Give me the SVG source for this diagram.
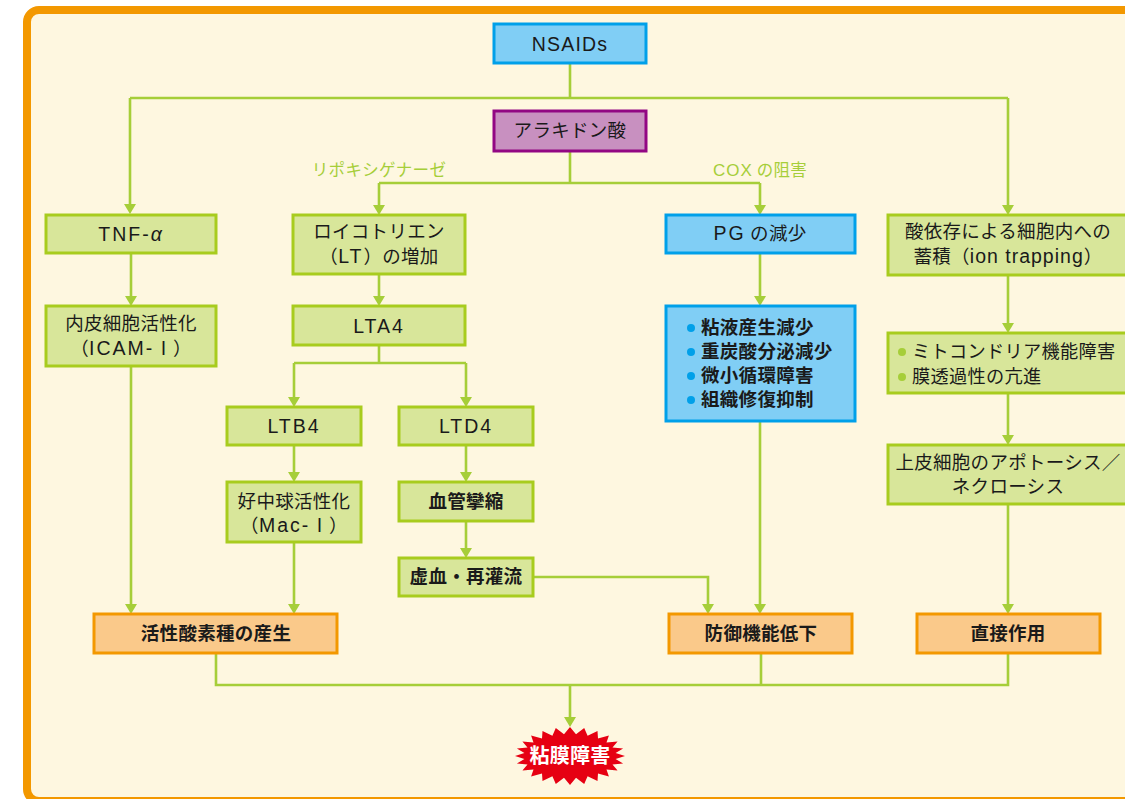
<svg xmlns="http://www.w3.org/2000/svg" width="1125" height="799" viewBox="0 0 1125 799">
<defs>
<marker id="arr" markerUnits="userSpaceOnUse" markerWidth="10" markerHeight="12" viewBox="0 0 10 12" refX="7" refY="6" orient="auto">
<path d="M0,0 L10,6 L0,12 z" fill="#A6CE39"/>
</marker>
</defs>
<style>
text{font-family:"Noto Sans CJK JP","Noto Sans",sans-serif;font-size:18.5px;fill:#1a1a1a;text-anchor:middle;letter-spacing:0.3px}
.lat{font-family:"Liberation Sans",Arial,sans-serif;font-size:19.5px;letter-spacing:2px}
.g{fill:#D8E69A;stroke:#A8CC1E;stroke-width:3}
.b{fill:#80CEF5;stroke:#00A0E9;stroke-width:3}
.o{fill:#FAC98A;stroke:#F39800;stroke-width:3}
.p{fill:#C890C0;stroke:#920783;stroke-width:3}
.c path{fill:none;stroke:#A6CE39;stroke-width:2.6}
.c .a{marker-end:url(#arr)}
.bold{font-weight:700}
.lbl{fill:#A6CE39;font-size:16.5px}
.lbl .lat{font-size:17px;letter-spacing:1px}
.st{text-anchor:start}
</style>
<rect x="0" y="0" width="1125" height="799" fill="#ffffff"/>
<rect id="frame" x="27" y="10" width="1120" height="791" rx="12" fill="#FEF7E0" stroke="#F39800" stroke-width="8"/>

<g class="c" id="connectors">
<path d="M570,63 V98"/>
<path d="M130,98 H1008"/>
<path class="a" d="M130,98 V211"/>
<path class="a" d="M1008,98 V212"/>
<path d="M570,151 V183"/>
<path d="M379,183 H760"/>
<path class="a" d="M379,183 V212"/>
<path class="a" d="M760,183 V212"/>
<path class="a" d="M131,253 V303"/>
<path class="a" d="M131,366 V611"/>
<path class="a" d="M379,274 V303"/>
<path d="M379,345 V363"/>
<path d="M294,363 H466"/>
<path class="a" d="M294,363 V404"/>
<path class="a" d="M466,363 V404"/>
<path class="a" d="M294,445 V479"/>
<path class="a" d="M466,445 V479"/>
<path class="a" d="M466,521 V555"/>
<path class="a" d="M294,542 V611"/>
<path class="a" d="M533,577 H708 V611"/>
<path class="a" d="M760,253 V303"/>
<path class="a" d="M760,421 V611"/>
<path class="a" d="M1008,275 V330"/>
<path class="a" d="M1008,393 V442"/>
<path class="a" d="M1008,504 V611"/>
<path d="M216,653 V685 H1008 V653"/>
<path d="M761,653 V685"/>
<path class="a" d="M570,685 V724"/>
</g>

<g id="nsaids"><rect class="b" x="494" y="24" width="152" height="39"/><text x="570" y="51"><tspan class="lat" style="letter-spacing:1.2px">NSAIDs</tspan></text></g>
<g id="arachidonic"><rect class="p" x="494" y="111" width="152" height="40"/><text x="570" y="137">アラキドン酸</text></g>
<g id="lbl-lox"><text class="lbl" x="379" y="176">リポキシゲナーゼ</text></g>
<g id="lbl-cox"><text class="lbl" x="760" y="176"><tspan class="lat">COX</tspan> の阻害</text></g>

<g id="tnf"><rect class="g" x="46" y="215" width="170" height="38"/><text x="131" y="241"><tspan class="lat">TNF-</tspan><tspan class="lat" font-style="italic">α</tspan></text></g>
<g id="lt"><rect class="g" x="293" y="215" width="172" height="59"/><text x="379" y="238">ロイコトリエン<tspan x="379" y="263">（<tspan class="lat">LT</tspan>）の増加</tspan></text></g>
<g id="pg"><rect class="b" x="666" y="215" width="189" height="38"/><text x="760" y="240"><tspan class="lat">PG</tspan> の減少</text></g>
<g id="ion"><rect class="g" x="888" y="215" width="240" height="60"/><text x="1008" y="238">酸依存による細胞内への<tspan x="1008" y="263">蓄積（<tspan class="lat" style="letter-spacing:1px">ion trapping</tspan>）</tspan></text></g>

<g id="icam"><rect class="g" x="46" y="306" width="170" height="60"/><text x="131" y="330">内皮細胞活性化<tspan x="131" y="355">（<tspan class="lat">ICAM-</tspan>Ⅰ）</tspan></text></g>
<g id="lta4"><rect class="g" x="293" y="306" width="172" height="39"/><text x="379" y="333"><tspan class="lat">LTA4</tspan></text></g>
<g id="pglist"><rect class="b" x="666" y="306" width="189" height="115"/>
<circle cx="691" cy="328" r="4" fill="#00A0E9"/><circle cx="691" cy="352" r="4" fill="#00A0E9"/><circle cx="691" cy="376" r="4" fill="#00A0E9"/><circle cx="691" cy="400" r="4" fill="#00A0E9"/>
<text class="st bold" x="701" y="334">粘液産生減少<tspan x="701" y="358">重炭酸分泌減少</tspan><tspan x="701" y="382">微小循環障害</tspan><tspan x="701" y="406">組織修復抑制</tspan></text></g>
<g id="mito"><rect class="g" x="888" y="333" width="240" height="60"/>
<circle cx="902" cy="352" r="4" fill="#A6CE39"/><circle cx="902" cy="377" r="4" fill="#A6CE39"/>
<text class="st" x="912" y="358" style="font-size:18.2px">ミトコンドリア機能障害<tspan x="912" y="383">膜透過性の亢進</tspan></text></g>

<g id="ltb4"><rect class="g" x="227" y="407" width="134" height="38"/><text x="294" y="433"><tspan class="lat">LTB4</tspan></text></g>
<g id="ltd4"><rect class="g" x="399" y="407" width="134" height="38"/><text x="466" y="433"><tspan class="lat">LTD4</tspan></text></g>
<g id="apoptosis"><rect class="g" x="888" y="445" width="240" height="59"/><text x="1008" y="469">上皮細胞のアポトーシス／<tspan x="1008" y="493">ネクローシス</tspan></text></g>

<g id="mac"><rect class="g" x="227" y="482" width="134" height="60"/><text x="294" y="508">好中球活性化<tspan x="294" y="532">（<tspan class="lat">Mac-</tspan>Ⅰ）</tspan></text></g>
<g id="vaso"><rect class="g" x="399" y="482" width="134" height="39"/><text class="bold" x="466" y="508">血管攣縮</text></g>
<g id="ischemia"><rect class="g" x="399" y="558" width="134" height="38"/><text class="bold" x="466" y="583">虚血・再灌流</text></g>

<g id="ros"><rect class="o" x="94" y="614" width="243" height="39"/><text class="bold" x="216" y="640">活性酸素種の産生</text></g>
<g id="defense"><rect class="o" x="669" y="614" width="183" height="39"/><text class="bold" x="761" y="640">防御機能低下</text></g>
<g id="direct"><rect class="o" x="917" y="614" width="183" height="39"/><text class="bold" x="1008" y="640">直接作用</text></g>

<g id="mucosal-injury">
<polygon fill="#E60012" points="625,756 615.6,758.9 623.1,763.5 612.5,764.4 617.6,770.5 606.5,769.4 608.9,776.5 598,773.5 597.5,781.1 587.6,776.3 584.2,784 576,777.8 570,785 564,777.8 555.8,784 552.4,776.3 542.5,781.1 542,773.5 531.1,776.5 533.5,769.4 522.4,770.5 527.5,764.4 516.9,763.5 524.4,758.9 515,756 524.4,753.1 516.9,748.5 527.5,747.6 522.4,741.5 533.5,742.6 531.1,735.5 542,738.5 542.5,730.9 552.4,735.7 555.8,728 564,734.2 570,727 576,734.2 584.2,728 587.6,735.7 597.5,730.9 598,738.5 608.9,735.5 606.5,742.6 617.6,741.5 612.5,747.6 623.1,748.5 615.6,753.1"/>
<text class="bold" x="570" y="763" style="fill:#ffffff;font-size:20px">粘膜障害</text>
</g>
</svg>
